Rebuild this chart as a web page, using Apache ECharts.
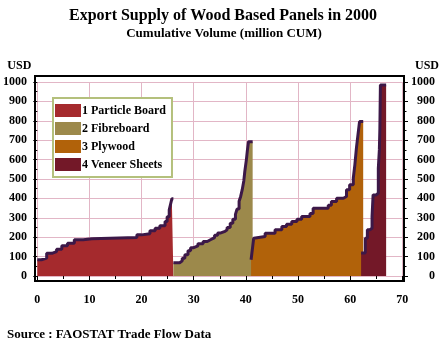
<!DOCTYPE html>
<html><head><meta charset="utf-8">
<script src="https://cdn.jsdelivr.net/npm/echarts@6/dist/echarts.min.js"></script>
<style>html,body{margin:0;padding:0;background:#fff}#c{width:446px;height:338px}</style>
</head><body><div id="c"></div>
<script>
// Cumulative volume (million CUM) where each price step begins, and price (USD)
const seriesNames = ['1 Particle Board', '2 Fibreboard', '3 Plywood', '4 Veneer Sheets'];
const particleX = [0, 0.8, 1.8, 2.8, 3.7, 4.7, 5.8, 7.1, 8.8, 10.5, 19.1, 20.0, 21.6, 22.6, 23.5, 24.5, 24.9, 25.3, 25.6, 25.8, 26.1];
const particleY = [84, 92, 117, 126, 138, 156, 169, 187, 192, 198, 212, 218, 233, 246, 259, 281, 306, 341, 375, 398, 398];
const fibreX = [26.1, 27.3, 27.8, 28.3, 28.9, 29.4, 29.9, 30.8, 31.8, 32.6, 33.3, 34.0, 34.6, 35.2, 36.0, 36.4, 37.0, 37.5, 38.0, 38.3, 38.7, 39.0, 39.3, 39.6, 39.8, 40.1, 40.3, 40.5, 41.3];
const fibreY = [68, 78, 92, 110, 130, 145, 155, 166, 178, 188, 198, 210, 222, 230, 238, 250, 272, 292, 318, 345, 385, 410, 445, 490, 540, 600, 650, 692, 692];
const plyX = [41.0, 41.3, 41.5, 41.7, 43.7, 45.6, 46.9, 47.8, 48.8, 49.8, 50.7, 52.3, 52.9, 55.8, 56.4, 57.4, 58.7, 59.3, 59.9, 60.6, 60.9, 61.2, 61.5, 61.8, 62.5];
const plyY = [84, 150, 195, 204, 221, 238, 255, 267, 281, 292, 307, 322, 349, 365, 384, 401, 410, 444, 470, 504, 573, 659, 728, 796, 796];
const veneerX = [62.1, 62.9, 63.3, 63.8, 64.2, 64.4, 65.0, 65.4, 65.6, 65.7, 65.8, 66.9];
const veneerY = [118, 195, 238, 246, 307, 418, 427, 555, 650, 762, 985, 985];
const xTicks = [0, 10, 20, 30, 40, 50, 60, 70];
const yTicks = [0, 100, 200, 300, 400, 500, 600, 700, 800, 900, 1000];

const fills = ['#a52a2d', '#9c894b', '#b1620a', '#731828'];
const outline = '#3c1848';
const FONT = '"Liberation Serif", "DejaVu Serif", serif';

function pairs(xs, ys) { return xs.map((x, i) => [x, ys[i]]); }
const dataSets = [pairs(particleX, particleY), pairs(fibreX, fibreY), pairs(plyX, plyY), pairs(veneerX, veneerY)];

const chart = echarts.init(document.getElementById('c'), null, { renderer: 'canvas' });
const labelStyle = { fontFamily: FONT, fontWeight: 'bold', fontSize: 12, color: '#000' };
const plain = v => String(v);

chart.setOption({
  animation: false,
  backgroundColor: '#fff',
  title: [
    { text: 'Export Supply of Wood Based Panels in 2000', left: 218, top: 3, textAlign: 'center',
      textStyle: { fontFamily: FONT, fontWeight: 'bold', fontSize: 16, color: '#000' } },
    { text: 'Cumulative Volume (million CUM)', left: 219, top: 22, textAlign: 'center',
      textStyle: { fontFamily: FONT, fontWeight: 'bold', fontSize: 13, color: '#000' } },
    { text: 'Source : FAOSTAT Trade Flow Data', left: 2, top: 323,
      textStyle: { fontFamily: FONT, fontWeight: 'bold', fontSize: 13, color: '#000' } }
  ],
  grid: { left: 37.3, right: 43.7, top: 82, bottom: 62 },
  legend: {
    orient: 'vertical', left: 53, top: 98,
    icon: 'rect', itemWidth: 26, itemHeight: 13, itemGap: 5,
    backgroundColor: '#fff', borderColor: '#b4c07c', borderWidth: 2,
    padding: [6, 6, 6, 2],
    textStyle: { fontFamily: FONT, fontWeight: 'bold', fontSize: 12, color: '#000', padding: [0, 0, 0, -4] },
    itemStyle: { borderWidth: 0 },
    data: seriesNames.map((n, i) => ({ name: n, itemStyle: { color: fills[i], borderWidth: 0 } }))
  },
  xAxis: {
    type: 'value', min: xTicks[0], max: xTicks[xTicks.length - 1], interval: 10,
    offset: 5,
    axisLine: { show: false },
    axisTick: { show: true, length: 5, lineStyle: { color: '#000', width: 1 } },
    minorTick: { show: true, splitNumber: 2, length: 3, lineStyle: { color: '#000', width: 1 } },
    splitLine: { show: true, lineStyle: { color: '#e2b6c6', width: 1 } },
    axisLabel: Object.assign({ margin: 13, formatter: plain }, labelStyle)
  },
  yAxis: [
    { type: 'value', min: yTicks[0], max: yTicks[yTicks.length - 1], interval: 100, position: 'left',
      offset: 2.3, name: 'USD', nameLocation: 'end', nameGap: 10,
      nameTextStyle: { fontFamily: FONT, fontWeight: 'bold', fontSize: 12, color: '#000', align: 'right', padding: [0, 6, 0, 0] },
      axisLine: { show: false },
      axisTick: { show: true, length: 4, lineStyle: { color: '#000' } },
      minorTick: { show: true, splitNumber: 2, length: 2.5, lineStyle: { color: '#000' } },
      splitLine: { show: true, lineStyle: { color: '#e2b6c6', width: 1 } },
      axisLabel: Object.assign({ margin: 8, formatter: plain }, labelStyle) },
    { type: 'value', min: yTicks[0], max: yTicks[yTicks.length - 1], interval: 100, position: 'right',
      offset: 1.7, name: 'USD', nameLocation: 'end', nameGap: 10,
      nameTextStyle: { fontFamily: FONT, fontWeight: 'bold', fontSize: 12, color: '#000', align: 'left', padding: [0, 0, 0, 11] },
      axisLine: { show: false },
      axisTick: { show: true, length: 4, lineStyle: { color: '#000' } },
      minorTick: { show: true, splitNumber: 2, length: 2.5, lineStyle: { color: '#000' } },
      splitLine: { show: false },
      axisLabel: Object.assign({ margin: 31, align: 'right', formatter: plain }, labelStyle) }
  ],
  graphic: [
    { type: 'rect', z: 100, silent: true, shape: { x: 35, y: 76, width: 369, height: 205 },
      style: { fill: null, stroke: '#000', lineWidth: 2 } }
  ],
  series: dataSets.map((d, i) => ({
    name: seriesNames[i], type: 'line', step: 'end', data: d,
    showSymbol: false, symbol: 'none',
    itemStyle: { color: fills[i] },
    lineStyle: { color: outline, width: 3 },
    areaStyle: { color: fills[i], opacity: 1, origin: 'auto' }
  }))
});
</script></body></html>
